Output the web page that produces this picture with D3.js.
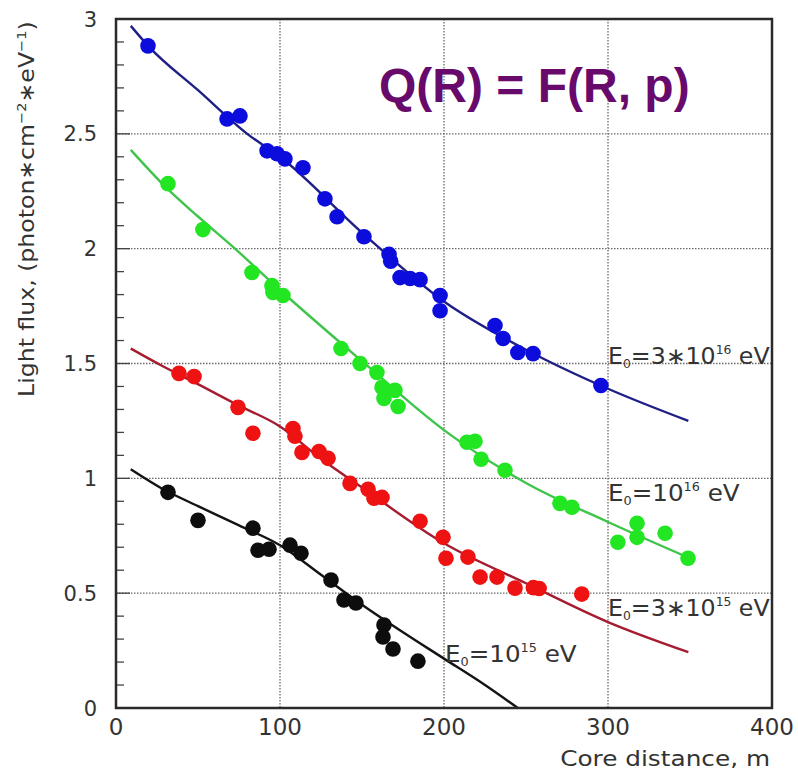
<!DOCTYPE html>
<html><head><meta charset="utf-8">
<script src="https://cdn.jsdelivr.net/npm/d3@7"></script>
<style>body{margin:0;background:#fff}</style>
</head><body>
<svg id="c" width="798" height="773"></svg>
<script>
// ---- data ----
const xTicks = [0, 100, 200, 300, 400];
const xTickLabels = ["0", "100", "200", "300", "400"];
const yTicks = [0, 0.5, 1, 1.5, 2, 2.5, 3];
const yTickLabels = ["0", "0.5", "1", "1.5", "2", "2.5", "3"];

const blueX = [19.5, 67.7, 75.6, 92.1, 98.2, 103.0, 114.0, 127.4, 134.8, 151.2, 166.5, 167.5, 173.2, 179.3, 185.4, 197.6, 197.6, 231.1, 236.0, 245.0, 254.3, 295.7];
const blueY = [2.883, 2.565, 2.578, 2.426, 2.413, 2.391, 2.352, 2.217, 2.139, 2.052, 1.975, 1.945, 1.874, 1.870, 1.865, 1.796, 1.730, 1.665, 1.609, 1.548, 1.543, 1.404];

const greenX = [31.7, 53.0, 82.9, 95.1, 95.7, 101.8, 137.2, 148.8, 159.1, 162.2, 163.4, 170.1, 172.0, 214.0, 218.9, 222.6, 237.2, 270.7, 278.0, 306.0, 317.7, 317.7, 334.8, 348.8];
const greenY = [2.283, 2.083, 1.896, 1.839, 1.809, 1.796, 1.565, 1.500, 1.461, 1.396, 1.348, 1.383, 1.313, 1.157, 1.161, 1.083, 1.035, 0.891, 0.874, 0.722, 0.804, 0.743, 0.761, 0.652];

const redX = [38.4, 47.6, 74.4, 83.5, 107.9, 109.1, 113.4, 123.8, 129.3, 142.7, 153.7, 157.3, 162.2, 185.4, 199.4, 201.2, 214.6, 222.0, 232.3, 243.3, 254.5, 258.0, 284.0];
const redY = [1.457, 1.443, 1.309, 1.196, 1.217, 1.183, 1.113, 1.117, 1.087, 0.978, 0.952, 0.913, 0.917, 0.813, 0.743, 0.652, 0.657, 0.570, 0.570, 0.522, 0.524, 0.520, 0.496];

const blackX = [31.7, 50.0, 83.5, 86.6, 93.3, 106.1, 112.8, 131.1, 139.0, 146.3, 163.4, 162.8, 168.9, 184.1];
const blackY = [0.939, 0.817, 0.783, 0.687, 0.691, 0.709, 0.674, 0.557, 0.470, 0.457, 0.361, 0.309, 0.257, 0.204];

// fitted curves
const blueFitX = [9, 20, 50, 80, 100, 150, 200, 250, 300, 349];
const blueFitY = [2.97, 2.88, 2.69, 2.50, 2.40, 2.07, 1.77, 1.56, 1.39, 1.25];
const greenFitX = [9, 30, 50, 71, 100, 150, 200, 250, 300, 349];
const greenFitY = [2.43, 2.27, 2.14, 2.01, 1.82, 1.51, 1.21, 0.98, 0.81, 0.655];
const redFitX = [9, 28, 50, 74, 100, 125, 150, 200, 250, 300, 349];
const redFitY = [1.565, 1.49, 1.41, 1.32, 1.226, 1.085, 0.96, 0.717, 0.543, 0.374, 0.243];
const blackFitX = [9, 30, 50, 75, 100, 125, 150, 175, 200, 225, 245];
const blackFitY = [1.04, 0.948, 0.879, 0.795, 0.709, 0.58, 0.45, 0.33, 0.215, 0.10, 0.0];

const seriesLabels = [
  {pre: "E", sub: "0", mid: "=3\u221710", sup: "16", post: " eV"},
  {pre: "E", sub: "0", mid: "=10", sup: "16", post: " eV"},
  {pre: "E", sub: "0", mid: "=3\u221710", sup: "15", post: " eV"},
  {pre: "E", sub: "0", mid: "=10", sup: "15", post: " eV"}
];
const titleText = "Q(R) = F(R, p)";
const xTitle = "Core distance, m";

// ---- drawing ----
const svg = d3.select("#c");
const L = 116, R = 772, T = 19, B = 708;
const x = d3.scaleLinear().domain([0, 400]).range([L, R]);
const y = d3.scaleLinear().domain([0, 3]).range([B, T]);
const FONT = "'DejaVu Sans', 'Liberation Sans', sans-serif";

function fit(sel, target) {
  const w = sel.node().getBBox().width;
  return target / w;
}

// grid
const grid = svg.append("g").attr("stroke", "#6a6a6a").attr("stroke-width", 1.3).attr("stroke-dasharray", "1.5,1.5");
grid.selectAll("line.gx").data(xTicks.slice(1, -1)).join("line")
  .attr("x1", d => x(d)).attr("x2", d => x(d)).attr("y1", T).attr("y2", B);
grid.selectAll("line.gy").data(yTicks.slice(1, -1)).join("line")
  .attr("y1", d => y(d)).attr("y2", d => y(d)).attr("x1", L).attr("x2", R);

// y minor ticks (inside)
const minor = d3.range(1, 30).map(i => i / 10);
svg.append("g").attr("stroke", "#444").attr("stroke-width", 1.3)
  .selectAll("line").data(minor).join("line")
  .attr("x1", L).attr("x2", d => (Math.abs(d * 2 - Math.round(d * 2)) < 1e-6 ? L + 14 : L + 8))
  .attr("y1", d => y(d)).attr("y2", d => y(d));

// curves
const line = d3.line().x(d => x(d[0])).y(d => y(d[1])).curve(d3.curveMonotoneX);
const fits = [
  [blueFitX, blueFitY, "#1f1f86"],
  [greenFitX, greenFitY, "#3fc44c"],
  [redFitX, redFitY, "#a51c30"],
  [blackFitX, blackFitY, "#141414"]
];
fits.forEach(([xs, ys, c]) => {
  svg.append("path").datum(xs.map((v, i) => [v, ys[i]]))
    .attr("d", line).attr("fill", "none").attr("stroke", c).attr("stroke-width", 2.4);
});

// points
const pts = [
  [blueX, blueY, "#0c0cdc"],
  [greenX, greenY, "#22e622"],
  [redX, redY, "#ee1212"],
  [blackX, blackY, "#0d0d0d"]
];
pts.forEach(([xs, ys, c]) => {
  svg.append("g").selectAll("circle").data(xs.map((v, i) => [v, ys[i]])).join("circle")
    .attr("cx", d => x(d[0])).attr("cy", d => y(d[1])).attr("r", 7.8).attr("fill", c);
});

// frame
svg.append("rect").attr("x", L).attr("y", T).attr("width", R - L).attr("height", B - T)
  .attr("fill", "none").attr("stroke", "#2a2a2a").attr("stroke-width", 2.5);

// tick labels
svg.append("g").selectAll("text").data(yTicks).join("text")
  .attr("x", 97).attr("y", d => y(d)).attr("dy", "0.36em")
  .attr("text-anchor", "end").attr("font-family", FONT).attr("font-size", 21).attr("fill", "#333")
  .text((d, i) => yTickLabels[i]);
svg.append("g").selectAll("text").data(xTicks).join("text")
  .attr("x", d => x(d)).attr("y", 735)
  .attr("text-anchor", "middle").attr("font-family", FONT).attr("font-size", 23).attr("fill", "#333")
  .text((d, i) => xTickLabels[i]);

// x title
const xt = svg.append("text").attr("text-anchor", "end").attr("font-family", FONT)
  .attr("font-size", 22).attr("fill", "#333").text(xTitle);
xt.attr("transform", `translate(770,766) scale(${fit(xt, 210)},1)`);

// y title
const yt = svg.append("text").attr("font-family", FONT).attr("font-size", 21).attr("fill", "#333");
yt.append("tspan").text("Light flux, (photon\u2217cm");
yt.append("tspan").attr("font-size", 13).attr("dy", -8).text("\u22122");
yt.append("tspan").attr("dy", 8).text("\u2217eV");
yt.append("tspan").attr("font-size", 13).attr("dy", -8).text("\u22121");
yt.append("tspan").attr("dy", 8).text(")");
yt.attr("transform", `translate(34,397) rotate(-90) scale(${fit(yt, 376)},1)`);

// series labels
const labelPos = [[608, 364, 162], [608, 501, 132], [608, 616, 162], [445, 662, 132]];
seriesLabels.forEach((lab, i) => {
  const t = svg.append("text").attr("font-family", FONT).attr("font-size", 23).attr("fill", "#333");
  t.append("tspan").text(lab.pre);
  t.append("tspan").attr("font-size", 12).attr("dy", 4).text(lab.sub);
  t.append("tspan").attr("dy", -4).text(lab.mid);
  t.append("tspan").attr("font-size", 12).attr("dy", -10).text(lab.sup);
  t.append("tspan").attr("dy", 10).text(lab.post);
  const [px, py, w] = labelPos[i];
  t.attr("transform", `translate(${px},${py}) scale(${fit(t, w)},1)`);
});

// title
svg.append("text").attr("x", 379).attr("y", 102)
  .attr("font-family", "'Liberation Sans', Arial, sans-serif").attr("font-weight", "bold")
  .attr("font-size", 48).attr("fill", "#670a6b").text(titleText);
</script>
</body></html>
